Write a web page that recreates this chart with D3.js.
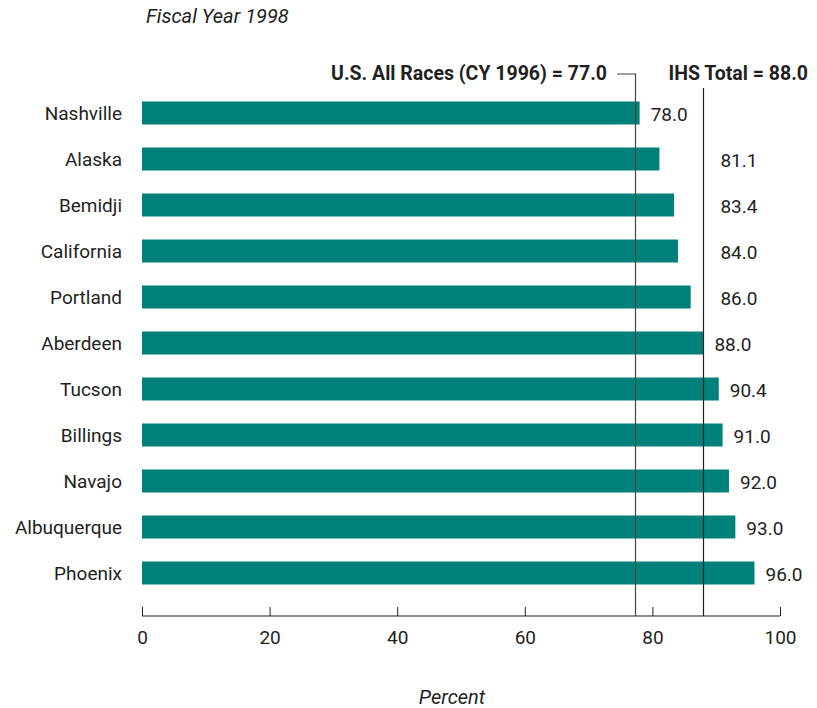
<!DOCTYPE html>
<html>
<head>
<meta charset="utf-8">
<script src="https://cdn.jsdelivr.net/npm/d3@7"></script>
<style>
  body { margin: 0; background: #fff; }
  text { font-family: Roboto, "Noto Sans", sans-serif; fill: #231f20; }
</style>
</head>
<body>
<svg id="chart"></svg>
<script>
var W = 817, H = 708;

var areas = ["Nashville","Alaska","Bemidji","California","Portland","Aberdeen",
             "Tucson","Billings","Navajo","Albuquerque","Phoenix"];
var values = [78.0, 81.1, 83.4, 84.0, 86.0, 88.0, 90.4, 91.0, 92.0, 93.0, 96.0];
var xTicks = [0, 20, 40, 60, 80, 100];
var usAllRaces = 77.0;
var ihsTotal = 88.0;

var svg = d3.select('#chart').attr('width', W).attr('height', H);

var x = d3.scaleLinear().domain([0, 100]).range([142, 780]);
var y = d3.scaleBand().domain(areas).range([90, 596]).paddingInner(0.5).paddingOuter(0.25);

// title
svg.append('text')
  .attr('x', 146).attr('y', 23)
  .style('font-size', '20px').style('font-style', 'italic')
  .text('Fiscal Year 1998');

// bars
svg.selectAll('rect.bar')
  .data(areas)
  .enter()
  .append('rect')
  .attr('class', 'bar')
  .attr('x', x(0))
  .attr('y', function(d){ return y(d); })
  .attr('width', function(d,i){ return x(values[i]) - x(0); })
  .attr('height', y.bandwidth())
  .attr('fill', '#00827a');

// category labels
svg.selectAll('text.cat')
  .data(areas)
  .enter()
  .append('text')
  .attr('class', 'cat')
  .attr('x', 122)
  .attr('y', function(d){ return y(d) + y.bandwidth()/2; })
  .attr('dy', '0.35em')
  .attr('text-anchor', 'end')
  .style('font-size', '19px')
  .text(function(d){ return d; });

// value labels: beside the bar if it fits before the IHS line, else past the line
svg.selectAll('text.val')
  .data(areas)
  .enter()
  .append('text')
  .attr('class', 'val')
  .attr('x', function(d,i){
    var end = x(values[i]);
    if (values[i] < ihsTotal) {
      if (end + 11 + 38 < x(ihsTotal)) return end + 11;
      return x(ihsTotal) + 17;
    }
    return end + 11;
  })
  .attr('y', function(d){ return y(d) + y.bandwidth()/2 + 1; })
  .attr('dy', '0.35em')
  .style('font-size', '19px')
  .text(function(d,i){ return values[i].toFixed(1); });

// axis
var axis = d3.axisBottom(x).tickValues(xTicks).tickSize(-9).tickPadding(15);
var gx = svg.append('g').attr('transform', 'translate(0,616)').call(axis);
gx.select('.domain').attr('d', 'M' + x(0) + ',0H' + x(100)).attr('stroke', '#231f20');
gx.selectAll('.tick line').attr('stroke', '#231f20');
gx.selectAll('.tick text')
  .attr('dy', '0.71em')
  .style('font-size', '19px')
  .style('font-family', 'Roboto, "Noto Sans", sans-serif')
  .attr('fill', '#231f20');

// reference lines
var xu = Math.round(x(usAllRaces) + 2) + 0.5;
svg.append('path')
  .attr('d', 'M617,74H' + xu + 'V616')
  .attr('fill', 'none').attr('stroke', '#444').attr('stroke-width', 1.2);
var xi = Math.round(x(ihsTotal)) + 0.5;
svg.append('line')
  .attr('x1', xi).attr('x2', xi).attr('y1', 88).attr('y2', 616)
  .attr('stroke', '#231f20').attr('stroke-width', 1.2);

svg.append('text')
  .attr('x', 607).attr('y', 80).attr('text-anchor', 'end')
  .style('font-size', '19.5px').style('font-weight', 'bold')
  .text('U.S. All Races (CY 1996) = ' + usAllRaces.toFixed(1));
svg.append('text')
  .attr('x', 808).attr('y', 80).attr('text-anchor', 'end')
  .style('font-size', '19.5px').style('font-weight', 'bold')
  .text('IHS Total = ' + ihsTotal.toFixed(1));

// axis title
svg.append('text')
  .attr('x', 452).attr('y', 704).attr('text-anchor', 'middle')
  .style('font-size', '20px').style('font-style', 'italic')
  .text('Percent');
</script>
</body>
</html>
